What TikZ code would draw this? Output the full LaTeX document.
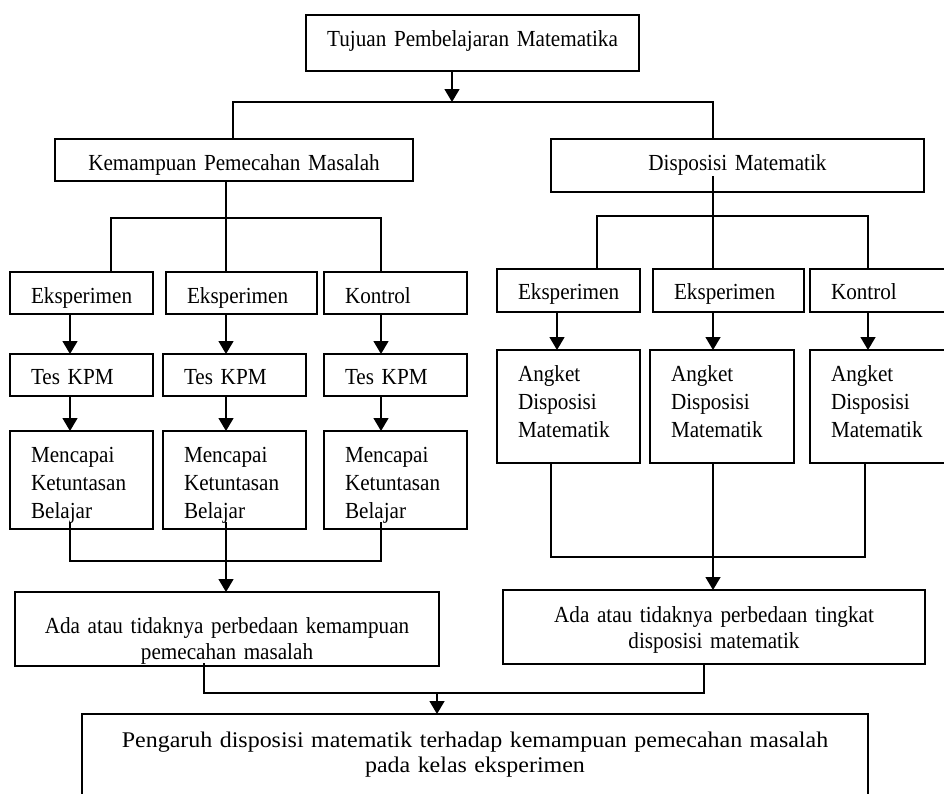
\documentclass[tikz,border=0pt]{standalone}
\usepackage{fontspec}
\setmainfont{Liberation Serif}
\newfontfamily\nfont[FakeStretch=0.92]{Liberation Serif}
\newfontfamily\bigfont[FakeStretch=1.07]{Liberation Serif}
\usetikzlibrary{arrows.meta,calc}
\tikzset{
  bx/.style={draw, line width=1.4pt, inner ysep=0pt, outer sep=0pt, anchor=north west},
  lbox/.style={bx, inner xsep=21pt, align=left, font=\nfont\fontsize{23}{28}\selectfont},
  cbox/.style={bx, inner xsep=0pt, align=center, font=\nfont\fontsize{23}{26}\selectfont},
  ln/.style={line width=1.4pt},
  arr/.style={line width=1.4pt, -{Triangle[length=13pt,width=15pt]}},
}
\begin{document}
\begin{tikzpicture}[x=1pt,y=-1pt]
\useasboundingbox (0,0) rectangle (944,793);
% top levels
\node[cbox, text width=333pt, text height=31pt, text depth=25pt] (tuj) at (306,15) {Tujuan Pembelajaran Matematika};
\node[cbox, text width=358pt, text height=31pt, text depth=11pt] (kpm) at (55,139) {Kemampuan Pemecahan Masalah};
\node[cbox, text width=373pt, text height=31pt, text depth=22pt] (disp) at (551,139) {Disposisi Matematik};
% left groups
\node[lbox, text width=101pt, text height=31pt, text depth=11pt] (e1) at (10,272) {Eksperimen};
\node[lbox, text width=109pt, text height=31pt, text depth=11pt] (e2) at (166,272) {Eksperimen};
\node[lbox, text width=101pt, text height=31pt, text depth=11pt] (k1) at (324,272) {Kontrol};
\node[lbox, text width=101pt, text height=30pt, text depth=12pt] (t1) at (10,354) {Tes KPM};
\node[lbox, text width=101pt, text height=30pt, text depth=12pt] (t2) at (163,354) {Tes KPM};
\node[lbox, text width=101pt, text height=30pt, text depth=12pt] (t3) at (324,354) {Tes KPM};
\node[lbox, text width=101pt, text height=31pt, text depth=67pt] (m1) at (10,431) {Mencapai\\Ketuntasan\\Belajar};
\node[lbox, text width=101pt, text height=31pt, text depth=67pt] (m2) at (163,431) {Mencapai\\Ketuntasan\\Belajar};
\node[lbox, text width=101pt, text height=31pt, text depth=67pt] (m3) at (324,431) {Mencapai\\Ketuntasan\\Belajar};
% right groups
\node[lbox, text width=101pt, text height=30pt, text depth=13pt] (re1) at (497,269) {Eksperimen};
\node[lbox, text width=109pt, text height=30pt, text depth=13pt] (re2) at (653,269) {Eksperimen};
\node[lbox, text width=108pt, text height=30pt, text depth=13pt] (rk) at (810,269) {Kontrol};
\node[lbox, text width=101pt, text height=31pt, text depth=82pt] (a1) at (497,350) {Angket\\Disposisi\\Matematik};
\node[lbox, text width=102pt, text height=31pt, text depth=82pt] (a2) at (650,350) {Angket\\Disposisi\\Matematik};
\node[lbox, text width=108pt, text height=31pt, text depth=82pt] (a3) at (810,350) {Angket\\Disposisi\\Matematik};
% results
\node[cbox, text width=424pt, text height=41pt, text depth=33pt] (adaL) at (15,592) {Ada atau tidaknya perbedaan kemampuan\\pemecahan masalah};
\node[cbox, text width=422pt, text height=32pt, text depth=42pt] (adaR) at (503,590) {Ada atau tidaknya perbedaan tingkat\\disposisi matematik};
\node[cbox, font=\bigfont\fontsize{22.4}{25}\selectfont, text width=786pt, text height=33pt, text depth=100pt] (bot) at (82,714) {Pengaruh disposisi matematik terhadap kemampuan pemecahan masalah\\pada kelas eksperimen};
% helper coordinates
\coordinate (jt) at (452,102);
\coordinate (uK) at (233,0);
\coordinate (jk) at (226,218);
\coordinate (jd) at (713,216);
\coordinate (uL1) at (111,0);
\coordinate (cL1) at (70,0);
\coordinate (cL2) at (226,0);
\coordinate (cL3) at (381,0);
\coordinate (uR1) at (597,0);
\coordinate (cR1) at (557,0);
\coordinate (cR2) at (713,0);
\coordinate (cR3) at (868,0);
\coordinate (dR1) at (551,0);
\coordinate (dR3) at (865,0);
\coordinate (jm) at (226,561);
\coordinate (jr) at (713,557);
\coordinate (jb) at (437,693);
\coordinate (bL) at (204,0);
\coordinate (bR) at (704,0);
% top connectors
\draw[arr] (tuj.south -| jt) -- (jt);
\draw[ln] (kpm.north -| uK) |- (jt) -| (disp.north -| jd);
% left branch
\draw[ln] (kpm.south -| jk) -- (jk);
\draw[ln] (e1.north -| uL1) |- (jk) -| (k1.north -| cL3);
\draw[ln] (jk) -- (e2.north -| jk);
\draw[arr] (e1.south -| cL1) -- (t1.north -| cL1);
\draw[arr] (e2.south -| cL2) -- (t2.north -| cL2);
\draw[arr] (k1.south -| cL3) -- (t3.north -| cL3);
\draw[arr] (t1.south -| cL1) -- (m1.north -| cL1);
\draw[arr] (t2.south -| cL2) -- (m2.north -| cL2);
\draw[arr] (t3.south -| cL3) -- (m3.north -| cL3);
\draw[ln] ($(m1.south -| cL1)+(0,-7)$) |- (jm) -| ($(m3.south -| cL3)+(0,-7)$);
\draw[ln] ($(m2.south -| cL2)+(0,-7)$) -- (jm);
\draw[arr] (jm) -- (adaL.north -| jm);
% right branch
\draw[ln] ($(disp.south -| jd)+(0,-16)$) -- (jd);
\draw[ln] (re1.north -| uR1) |- (jd) -| (rk.north -| cR3);
\draw[ln] (jd) -- (re2.north -| jd);
\draw[arr] (re1.south -| cR1) -- (a1.north -| cR1);
\draw[arr] (re2.south -| cR2) -- (a2.north -| cR2);
\draw[arr] (rk.south -| cR3) -- (a3.north -| cR3);
\draw[ln] (a1.south -| dR1) |- (jr) -| (a3.south -| dR3);
\draw[ln] (a2.south -| jr) -- (jr);
\draw[arr] (jr) -- (adaR.north -| jr);
% bottom
\draw[ln] ($(adaL.south -| bL)+(0,-3)$) |- (jb) -| (adaR.south -| bR);
\draw[arr] (jb) -- (bot.north -| jb);
\end{tikzpicture}
\end{document}
